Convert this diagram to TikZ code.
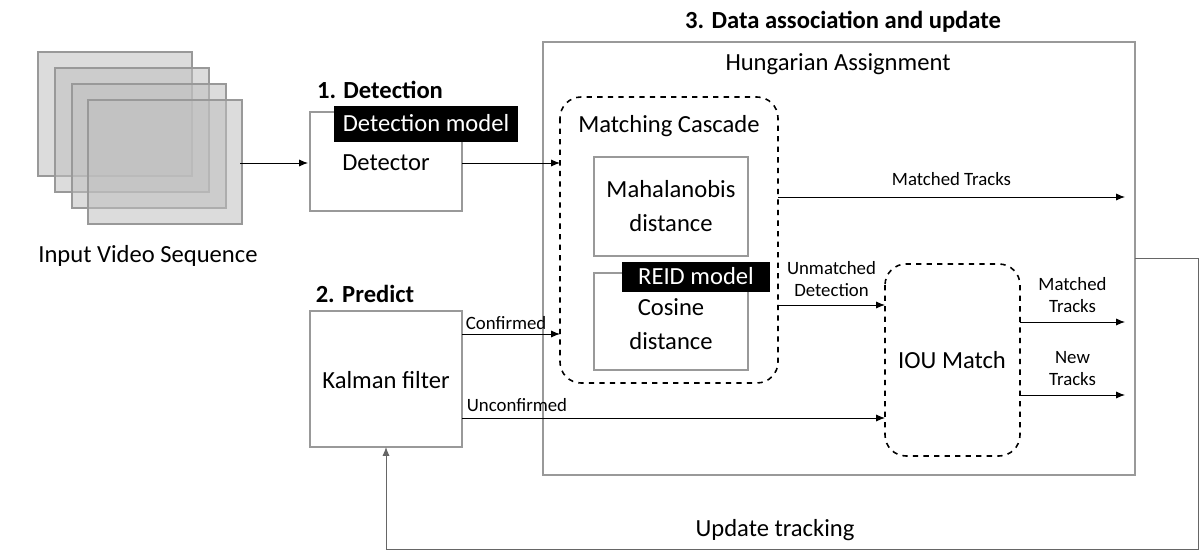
\documentclass[tikz,border=0pt]{standalone}
\usepackage{fontspec}
\setmainfont{Carlito}
\usetikzlibrary{arrows.meta}
\begin{document}
\begin{tikzpicture}[x=0.02cm,y=-0.02cm,
  box/.style={draw=black!40,line width=0.9pt},
  frame/.style={draw=black!40,fill=black!25,fill opacity=0.55,line width=0.8pt},
  dbox/.style={draw,dashed,rounded corners=12pt,line width=0.9pt},
  blk/.style={fill=black,text=white,inner sep=0pt,font=\fontsize{14}{16}\selectfont},
  lab/.style={font=\fontsize{14}{17}\selectfont},
  sm/.style={font=\fontsize{10.7}{12.5}\selectfont,align=center},
  ttl/.style={font=\bfseries\fontsize{14}{17}\selectfont},
  arr/.style={-{Latex[length=5pt,width=4pt]},line width=0.5pt}]
\path[use as bounding box] (0,0) rectangle (1200,560);
\foreach \i/\dx in {0/0,1/17,2/34,3/50}
  \draw[frame] (38+\dx,52+16*\i) rectangle (192+\dx,176+16*\i);
\node[lab] (ivs) at (148,256) {Input Video Sequence};
\coordinate (fr) at (240,163);
% detector
\draw[box] (310,112) rectangle (462,211);
\node[lab] (det) at (386,163) {Detector};
\node[blk] (dm) at (426,124) {\makebox[105pt]{Detection model}\rule[-6pt]{0pt}{21pt}};
\node[ttl] (t1) at (380,90) {1. Detection};
\draw[arr] (fr) -- (308,163);
% big box
\draw[box] (543,42) rectangle (1135,475);
\node[ttl] (t3) at (843,22) {3. Data association and update};
\node[lab] (ha) at (838,64) {Hungarian Assignment};
% cascade
\draw[dbox] (560,97) rectangle (778,383);
\node[lab] (mc) at (669,126) {Matching Cascade};
\draw[box] (594,157) rectangle (748,256);
\node[lab,align=center] (mah) at (671,206) {Mahalanobis\\[2pt]distance};
\draw[box] (594,273) rectangle (748,370);
\node[lab,align=center] (cos) at (671,324) {Cosine\\[2pt]distance};
\node[blk] (reid) at (696,277) {\makebox[84pt]{REID model}\rule[-4pt]{0pt}{17pt}};
\draw[arr] (462,163) -- (560,163);
% IOU
\draw[dbox] (885,264) rectangle (1020,456);
\node[lab] (iou) at (952,360) {IOU Match};
\draw[arr] (778,197) -- node[sm,above=3pt]{Matched Tracks} (1125,197);
\draw[arr] (778,305) -- node[sm,above=1pt]{Unmatched\\Detection} (885,305);
\draw[arr] (1020,322) -- node[sm,above=2pt]{Matched\\Tracks} (1125,322);
\draw[arr] (1020,395) -- node[sm,above=2pt]{New\\Tracks} (1125,395);
% Kalman
\draw[box] (310,311) rectangle (462,447);
\node[ttl] (t2) at (365,294) {2. Predict};
\node[lab] (kf) at (386,380) {Kalman filter};
\draw[arr] (462,334) -- node[sm,above=-1pt,pos=0.45]{Confirmed} (560,334);
\draw[arr] (462,418) -- (885,418);
\node[sm] (unc) at (517,405) {Unconfirmed};
% feedback
\draw[arr,draw=black!60] (1135,258) -- (1198,258) -- (1198,549) -- (386,549) -- (386,447);
\node[lab] (ut) at (775,530) {Update tracking};
\end{tikzpicture}
\end{document}
